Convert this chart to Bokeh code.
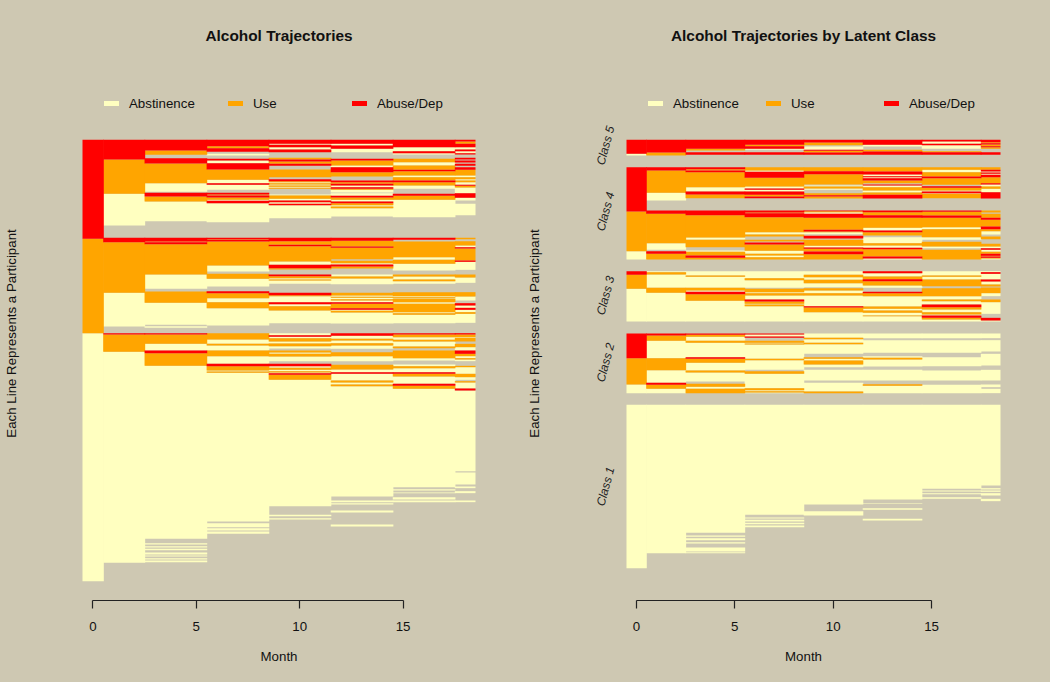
from bokeh.plotting import figure
from bokeh.layouts import row
from bokeh.models import Range1d, FixedTicker, Label, Legend, LegendItem, ColumnDataSource
from bokeh.embed import file_html
from bokeh.resources import INLINE
import math

BG = "#CEC8B2"
COL = {"A": "#FFFFC0", "U": "#FFA500", "R": "#FF0000"}
NAMES = ["Abstinence", "Use", "Abuse/Dep"]
ticks = [0, 5, 10, 15]
period_edges = [-0.5, 0.5, 2.5, 5.5, 8.5, 11.5, 14.5, 17.5, 18.5]

# Each period: (state, last participant rank of the run); M = no observation
left_p0 = [("R",297),("U",580),("A",1324)]
left_p1 = [("R",59),("U",162),("A",257),("M",294),("R",307),("U",459),("A",560),("M",580),("R",584),("U",636),("A",1269)]
left_p2 = [("R",32),("U",45),("M",55),("R",71),("U",130),("A",156),("M",159),("R",170),("U",185),("A",244),("M",294),("R",305),("U",307),("R",313),("U",404),("A",447),("M",455),("U",489),("A",555),("M",559),("A",564),("M",580),("R",584),("U",612),("A",632),("R",640),("U",678),("A",1197),("M",1210),("A",1214),("M",1219),("A",1223),("M",1227),("A",1231),("M",1238),("A",1244),("M",1247),("A",1250),("M",1255),("A",1259),("M",1262),("A",1267)]
left_p3 = [("R",19),("U",25),("R",36),("M",42),("A",47),("M",57),("R",62),("A",70),("R",89),("U",120),("A",130),("R",135),("A",150),("M",159),("R",164),("U",167),("R",173),("U",180),("A",183),("R",190),("A",247),("M",294),("R",298),("U",300),("R",305),("U",377),("A",395),("M",402),("U",417),("A",440),("M",454),("R",460),("U",475),("A",487),("U",505),("A",557),("M",580),("U",599),("A",612),("U",617),("A",632),("U",649),("A",672),("R",679),("U",692),("A",695),("U",699),("A",1145),("M",1150),("A",1162),("M",1165),("A",1172),("M",1175),("A",1182)]
left_p4 = [("R",12),("A",15),("R",22),("A",29),("R",37),("M",54),("U",59),("R",65),("U",72),("R",78),("M",89),("U",112),("M",118),("R",124),("U",127),("A",130),("U",134),("A",137),("U",141),("A",144),("U",147),("M",164),("A",167),("U",177),("A",182),("R",187),("A",192),("R",196),("A",235),("M",294),("R",304),("U",315),("R",319),("U",365),("A",375),("R",385),("U",389),("M",404),("R",409),("U",415),("A",419),("U",422),("A",432),("M",459),("R",466),("U",469),("A",487),("R",493),("A",499),("U",512),("A",550),("M",580),("A",586),("R",591),("A",595),("U",605),("A",611),("U",619),("A",626),("M",632),("U",638),("A",642),("U",650),("A",664),("M",672),("R",679),("A",684),("U",690),("A",694),("U",698),("A",700),("R",705),("U",720),("A",1099),("M",1125),("A",1129),("M",1135),("A",1139)]
left_p5 = [("R",12),("A",17),("R",27),("A",37),("M",57),("R",62),("U",77),("A",82),("R",97),("U",110),("M",122),("R",127),("U",132),("R",137),("A",142),("R",147),("U",150),("A",158),("M",160),("A",168),("R",173),("U",180),("A",185),("R",190),("U",196),("A",200),("U",205),("A",230),("M",294),("R",303),("U",320),("R",324),("U",358),("M",363),("U",370),("A",374),("R",380),("U",386),("M",404),("A",410),("U",416),("A",433),("M",459),("U",467),("A",471),("U",474),("A",478),("U",482),("A",487),("R",492),("U",505),("R",510),("A",513),("U",518),("A",551),("M",580),("R",588),("A",597),("U",602),("A",610),("U",617),("A",627),("M",637),("U",649),("A",664),("M",675),("U",689),("A",697),("R",702),("A",722),("U",728),("A",734),("U",739),("A",1070),("M",1082),("A",1087),("M",1090),("A",1094),("M",1112),("A",1118),("M",1154),("A",1160)]
left_p6 = [("R",22),("A",34),("R",40),("A",44),("M",57),("U",67),("A",77),("U",90),("R",94),("U",107),("A",112),("U",122),("R",127),("U",137),("A",147),("M",162),("R",168),("U",180),("A",232),("M",294),("R",300),("M",305),("U",352),("A",360),("U",372),("A",392),("M",404),("U",410),("A",419),("U",424),("A",432),("M",457),("U",469),("A",472),("U",475),("A",477),("U",487),("A",492),("U",517),("A",520),("U",525),("A",550),("M",580),("R",584),("U",592),("A",600),("U",605),("A",620),("U",625),("M",632),("U",655),("A",662),("M",674),("A",679),("U",685),("A",697),("R",702),("U",710),("A",732),("R",738),("U",747),("A",1042),("M",1048),("A",1052),("M",1058),("A",1060),("M",1072),("A",1079),("M",1082),("A",1087)]
left_p7 = [("R",5),("U",12),("R",22),("A",29),("R",34),("A",40),("R",44),("M",54),("R",59),("M",62),("R",68),("M",72),("R",78),("M",82),("R",90),("U",107),("A",112),("U",118),("A",122),("U",127),("A",135),("R",138),("U",143),("A",160),("R",174),("A",182),("M",192),("A",226),("M",294),("U",298),("M",304),("U",317),("A",322),("R",326),("U",362),("R",366),("A",390),("M",404),("U",413),("A",429),("M",457),("U",470),("A",482),("M",490),("R",497),("A",504),("R",510),("A",517),("U",522),("A",549),("M",580),("R",584),("U",592),("A",594),("U",605),("M",612),("U",622),("A",632),("R",642),("U",649),("A",655),("U",659),("A",664),("M",678),("U",682),("A",702),("U",712),("A",720),("M",724),("U",728),("A",746),("R",752),("A",994),("M",998),("A",1034),("M",1040),("A",1045),("M",1054),("A",1060),("M",1082),("A",1087)]

right_p0 = [("R",42),("A",47),("M",82),("R",215),("U",334),("A",359),("M",394),("R",405),("U",447),("A",545),("M",581),("R",655),("U",734),("A",760),("M",795),("A",1285)]
right_p1 = [("R",38),("U",47),("M",82),("R",92),("U",159),("A",182),("M",212),("R",222),("U",310),("A",330),("M",334),("R",342),("U",359),("M",394),("A",397),("U",404),("A",444),("U",459),("A",545),("M",581),("R",587),("U",603),("A",655),("U",691),("A",729),("R",735),("U",747),("A",760),("M",795),("A",1240)]
right_p2 = [("R",27),("U",32),("M",37),("R",45),("M",82),("R",88),("U",92),("R",97),("U",142),("A",155),("R",164),("U",175),("M",212),("R",226),("U",293),("A",300),("U",322),("M",332),("A",336),("U",347),("R",354),("U",359),("M",394),("A",407),("U",411),("A",444),("U",452),("A",456),("R",463),("U",483),("A",545),("M",581),("R",585),("U",591),("A",603),("U",609),("A",652),("R",657),("U",669),("A",692),("U",698),("A",725),("M",732),("U",741),("A",747),("U",760),("M",795),("A",1179),("M",1187),("A",1191),("M",1195),("A",1201),("M",1207),("A",1211),("M",1223),("A",1235),("M",1237),("A",1240)]
right_p3 = [("R",15),("U",19),("R",27),("A",30),("M",37),("R",45),("M",82),("U",92),("A",96),("R",114),("U",140),("A",146),("R",150),("A",155),("R",165),("U",170),("R",175),("M",212),("R",218),("U",220),("R",232),("U",277),("A",284),("U",290),("M",300),("U",305),("M",308),("R",314),("U",333),("A",342),("U",347),("A",352),("U",359),("M",394),("A",415),("U",421),("A",444),("M",447),("U",457),("A",460),("U",467),("A",479),("R",485),("U",492),("A",494),("U",499),("A",545),("M",581),("R",584),("A",590),("R",594),("M",603),("U",609),("A",611),("U",614),("A",657),("U",661),("A",690),("M",694),("U",702),("A",745),("U",751),("A",754),("U",758),("A",760),("M",795),("A",1125),("M",1133),("A",1136),("M",1140),("A",1145),("M",1149),("A",1153),("M",1157),("A",1162)]
right_p4 = [("R",8),("U",16),("M",20),("A",30),("R",33),("U",38),("R",45),("M",82),("U",94),("R",103),("U",134),("M",137),("A",140),("U",146),("A",150),("M",160),("U",166),("R",170),("U",176),("M",212),("R",214),("U",217),("A",222),("R",234),("U",270),("R",275),("U",277),("A",283),("M",288),("R",296),("M",300),("U",318),("A",323),("R",327),("U",335),("R",343),("U",359),("M",394),("A",405),("U",412),("A",420),("U",430),("A",442),("M",445),("U",452),("A",460),("U",467),("A",499),("R",503),("U",517),("A",545),("M",581),("A",594),("U",598),("A",609),("U",613),("A",642),("M",652),("U",657),("A",662),("U",674),("A",682),("M",690),("A",722),("M",729),("A",755),("U",760),("M",795),("A",1094),("M",1114),("A",1127)]
right_p5 = [("R",15),("A",20),("M",30),("U",35),("R",45),("M",82),("U",95),("R",104),("A",109),("R",112),("A",115),("R",122),("U",130),("M",134),("R",137),("A",142),("U",152),("A",158),("U",165),("R",176),("M",212),("R",217),("U",226),("R",234),("U",264),("A",272),("R",277),("U",287),("M",292),("A",310),("U",317),("A",324),("R",328),("U",350),("R",356),("A",359),("M",394),("R",400),("A",410),("U",418),("R",424),("U",437),("A",444),("M",456),("R",460),("U",469),("A",500),("U",507),("A",512),("U",519),("A",527),("U",529),("A",545),("M",581),("A",595),("M",601),("A",639),("M",649),("A",654),("U",659),("A",680),("M",690),("A",722),("M",733),("U",738),("A",760),("M",795),("A",1079),("M",1090),("A",1092),("M",1105),("A",1110),("M",1137),("A",1142)]
right_p6 = [("R",5),("A",12),("R",16),("A",27),("M",34),("U",37),("R",45),("M",82),("U",90),("A",97),("U",110),("R",115),("U",135),("M",139),("R",144),("U",152),("A",155),("R",160),("A",162),("U",175),("M",212),("R",216),("U",227),("R",234),("U",262),("A",268),("U",292),("A",300),("M",306),("U",320),("A",325),("M",330),("U",359),("M",394),("A",407),("U",411),("A",419),("U",439),("M",445),("U",469),("A",479),("U",484),("A",494),("R",502),("U",509),("A",517),("U",524),("A",527),("R",534),("U",539),("A",545),("M",581),("A",595),("M",601),("A",639),("M",652),("A",679),("M",692),("A",722),("M",735),("A",760),("M",795),("A",1047),("M",1052),("A",1055),("M",1060),("A",1063),("M",1072),("A",1077)]
right_p7 = [("R",7),("U",10),("R",14),("U",19),("R",22),("U",27),("M",37),("R",45),("M",82),("U",90),("R",95),("A",98),("R",102),("A",105),("R",112),("U",130),("R",134),("A",140),("U",147),("A",157),("R",176),("M",212),("U",218),("M",222),("U",234),("R",240),("U",260),("R",268),("U",274),("A",284),("M",290),("U",298),("M",312),("U",320),("A",325),("R",330),("A",336),("U",342),("R",348),("U",350),("R",354),("U",356),("A",359),("M",394),("A",397),("R",402),("A",419),("R",425),("A",434),("U",440),("M",443),("U",460),("A",469),("M",479),("U",487),("A",522),("M",534),("R",542),("A",545),("M",581),("A",595),("M",601),("A",635),("M",642),("A",677),("M",690),("A",722),("M",734),("A",742),("M",747),("A",760),("M",795),("A",1037),("M",1045),("A",1049),("M",1052),("A",1056),("M",1060),("A",1067),("M",1077),("A",1084)]

left_periods = [left_p0, left_p1, left_p2, left_p3, left_p4, left_p5, left_p6, left_p7]
right_periods = [right_p0, right_p1, right_p2, right_p3, right_p4, right_p5, right_p6, right_p7]

W, H = 517, 666
FTOP, FBOT = 66, 66          # frame borders in the figure
RANK_TOP = 139.33            # page y of rank 0
TOP_RANK, BOT_RANK = (FTOP - RANK_TOP) * 3, (H - FBOT - RANK_TOP) * 3
OVERLAP = 0.03               # hides hairline seams between neighbouring periods


def panel(periods, fig_x, frame_left, data_left, data_w, title, key_x, item_w, ylab_standoff):
    scale = data_w / 19.0
    p = figure(width=W, height=H, output_backend="svg", toolbar_location=None,
               x_range=Range1d(-0.5 - (data_left - frame_left) / scale,
                               18.5 + (fig_x + W - data_left - data_w) / scale),
               y_range=Range1d(BOT_RANK, TOP_RANK),
               title=title, min_border_left=frame_left - fig_x, min_border_right=0,
               min_border_top=FTOP, min_border_bottom=FBOT,
               background_fill_color=BG, border_fill_color=BG)
    p.outline_line_color = None
    p.grid.visible = False
    p.title.align = "center"
    p.title.text_font = "Liberation Sans"
    p.title.text_font_size = "15.4px"
    p.title.text_font_style = "bold"
    p.title.text_color = "#111111"
    p.title.standoff = 46

    for st in "AUR":
        d = dict(l=[], r=[], t=[], b=[])
        for i, runs in enumerate(periods):
            prev = 0
            for s, end in runs:
                if s == st and end > prev:
                    d["l"].append(period_edges[i])
                    d["r"].append(period_edges[i + 1] + (OVERLAP if i < 7 else 0))
                    d["t"].append(prev); d["b"].append(end)
                prev = end
        p.quad(left="l", right="r", top="t", bottom="b", source=ColumnDataSource(d),
               fill_color=COL[st], line_color=None)

    ax = p.xaxis[0]
    ax.ticker = FixedTicker(ticks=ticks)
    ax.bounds = (0, 15)
    ax.axis_line_color = "#222222"
    ax.axis_line_width = 1.2
    ax.major_tick_line_color = "#222222"
    ax.major_tick_line_width = 1.2
    ax.major_tick_in = 0
    ax.major_tick_out = 8
    ax.minor_tick_line_color = None
    ax.major_label_text_font = "Liberation Sans"
    ax.major_label_text_font_size = "13.3px"
    ax.major_label_text_color = "#111111"
    ax.major_label_standoff = 13
    ax.axis_label = "Month"
    ax.axis_label_text_font = "Liberation Sans"
    ax.axis_label_text_font_size = "13.3px"
    ax.axis_label_text_font_style = "normal"
    ax.axis_label_text_color = "#111111"
    ax.axis_label_standoff = 15

    ay = p.yaxis[0]
    ay.ticker = FixedTicker(ticks=[])
    ay.axis_line_color = None
    ay.major_tick_line_color = None
    ay.minor_tick_line_color = None
    ay.major_label_text_font_size = "0px"
    ay.major_label_standoff = 0
    ay.major_tick_out = 0
    ay.major_tick_in = 0
    ay.axis_label = "Each Line Represents a Participant"
    ay.axis_label_text_font = "Liberation Sans"
    ay.axis_label_text_font_size = "13.3px"
    ay.axis_label_text_font_style = "normal"
    ay.axis_label_text_color = "#111111"
    ay.axis_label_standoff = ylab_standoff

    # The key lines sit left of the visible range; only their legend glyphs show
    keys = [p.line([-99, -98], [0, 0], line_color=COL[k], line_width=5, line_cap="round") for k in "AUR"]
    leg = Legend(items=[LegendItem(label=n, renderers=[r]) for n, r in zip(NAMES, keys)],
                 orientation="horizontal", location=(key_x - frame_left, H - FBOT - 111),
                 background_fill_alpha=0, border_line_color=None, padding=0, margin=0,
                 spacing=0, glyph_width=15, glyph_height=16, label_standoff=10,
                 label_width=item_w - 25, label_height=16,
                 label_text_font="Liberation Sans", label_text_font_size="13.3px",
                 label_text_color="#111111")
    p.add_layout(leg, "center")

    def txt(text, x, y, size="13.3px", style="normal", angle=0.0):
        p.add_layout(Label(x=-0.5 + (x - data_left) / scale, y=(y - RANK_TOP) * 3,
                           text=text, text_font="Liberation Sans", text_font_size=size,
                           text_font_style=style, text_color="#222222", text_align="center",
                           text_baseline="middle", angle=angle))
    return p, txt


left, _ = panel(left_periods, 0, 40, 82, 393, "Alcohol Trajectories", 104, 124, 22)
right, rtxt = panel(right_periods, 517, 572, 626, 374, "Alcohol Trajectories by Latent Class", 648, 118, 31)
for name, cy in [("Class 5", 145), ("Class 4", 211), ("Class 3", 295), ("Class 2", 362), ("Class 1", 486)]:
    rtxt(name, 605, cy, "12px", "italic", angle=math.radians(75))

html = file_html(row(left, right, spacing=0), INLINE)
html = html.replace("<head>", "<head><style>html,body{background:%s;}</style>" % BG, 1)
open("out.html", "w").write(html)
